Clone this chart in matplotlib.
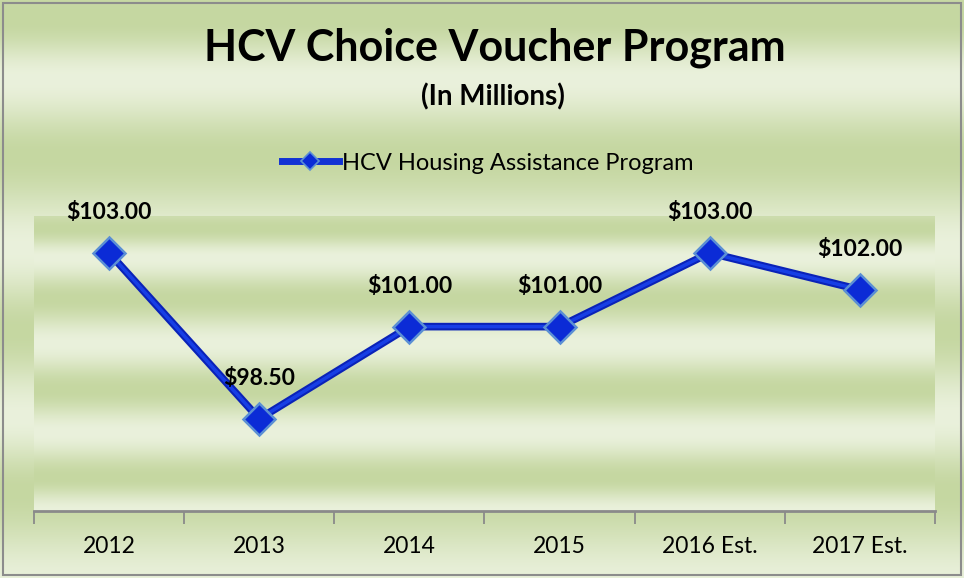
import numpy as np
import matplotlib
matplotlib.use("Agg")
import matplotlib.pyplot as plt
from matplotlib.colors import to_rgb

# ---- data ----
categories = ["2012", "2013", "2014", "2015", "2016 Est.", "2017 Est."]
values = [103.00, 98.50, 101.00, 101.00, 103.00, 102.00]
labels = ["$103.00", "$98.50", "$101.00", "$101.00", "$103.00", "$102.00"]
series_name = "HCV Housing Assistance Program"
title = "HCV Choice Voucher Program"
subtitle = "(In Millions)"

W, H = 964, 578
DPI = 100
plt.rcParams['font.family'] = ['Lato', 'DejaVu Sans']

fig = plt.figure(figsize=(W / DPI, H / DPI), dpi=DPI)

dark = np.array(to_rgb("#c5d7a1"))
light = np.array(to_rgb("#eaf1dc"))

def gradient(knots_y, knots_t, n):
    ys = np.arange(n)
    t = np.interp(ys, knots_y, knots_t)
    t = 0.5 - 0.5 * np.cos(np.pi * t)
    cols = dark[None, :] * (1 - t[:, None]) + light[None, :] * t[:, None]
    return cols[:, None, :]

# figure background
bg = fig.add_axes([0, 0, 1, 1], zorder=-10)
bg.imshow(gradient([0, 20, 78, 155, 248, 330, 417, 490, 578],
                   [0.15, 0, 1, 0, 1, 0, 1, 0, 0.9], H),
          aspect='auto', extent=[0, W, H, 0], interpolation='bilinear')
bg.set_xlim(0, W)
bg.set_ylim(H, 0)
bg.axis('off')
bg.add_patch(plt.Rectangle((2.5, 2.5), W - 6, H - 6, fill=False,
                           edgecolor='#8c8c8c', lw=1.5))

# plot area
left, right, top, bottom = 34, 935, 216, 511
ax = fig.add_axes([left / W, (H - bottom) / H, (right - left) / W, (bottom - top) / H])
n = bottom - top
ax.imshow(gradient(np.array([217, 228, 257, 298, 343, 389, 432, 477, 511]) - top,
                   [0.3, 0, 1, 0, 1, 0, 1, 0, 1], n),
          aspect='auto', extent=[-0.5, len(categories) - 0.5, 96, 104],
          interpolation='bilinear', zorder=0)

x = np.arange(len(categories))
ax.plot(x, values, color='#0a22b8', lw=5.5, solid_capstyle='round', zorder=3)
ax.plot(x, values, color='#1a44ee', lw=2.5, solid_capstyle='round', zorder=3.1,
        alpha=0.85)
ax.plot(x, values, lw=0, zorder=3.2,
        marker='D', markersize=16, markerfacecolor='#0b2bd6',
        markeredgecolor='#5b8fd4', markeredgewidth=1.8)
# legend proxy
ax.plot([], [], color='#1232d4', lw=5, marker='D', markersize=9,
        markerfacecolor='#0b2bd6', markeredgecolor='#5b8fd4',
        markeredgewidth=1.2, label=series_name)

for xi, v, lab in zip(x, values, labels):
    ax.annotate(lab, (xi, v), xytext=(0, 29), textcoords='offset points',
                ha='center', va='center', fontsize=16.5, fontweight='bold',
                color='black', zorder=5, annotation_clip=False)

ax.set_xlim(-0.5, len(categories) - 0.5)
ax.set_ylim(96, 104)
ax.set_yticks([])
ax.set_xticks(x)
ax.set_xticklabels(categories, fontsize=16.5)
ax.set_xticks(np.arange(len(categories) + 1) - 0.5, minor=True)
ax.tick_params(axis='x', which='major', length=0, pad=18)
ax.tick_params(axis='x', which='minor', length=9, width=1.3, color='#8a8a8a')
for s in ['top', 'right', 'left']:
    ax.spines[s].set_visible(False)
ax.spines['bottom'].set_color('#8a8a8a')
ax.spines['bottom'].set_linewidth(2)
ax.spines['bottom'].set_zorder(4)

fig.text(495 / W, 1 - 48 / H, title, ha='center', va='center',
         fontsize=31, fontweight='bold', color='black')
fig.text(493 / W, 1 - 97 / H, subtitle, ha='center', va='center',
         fontsize=20, fontweight='bold', color='black')

leg = fig.legend(loc='center', bbox_to_anchor=(488 / W, 1 - 163 / H),
                 frameon=False, fontsize=17, handlelength=2.4,
                 handletextpad=0.15)

fig.savefig("out.png", dpi=DPI)
